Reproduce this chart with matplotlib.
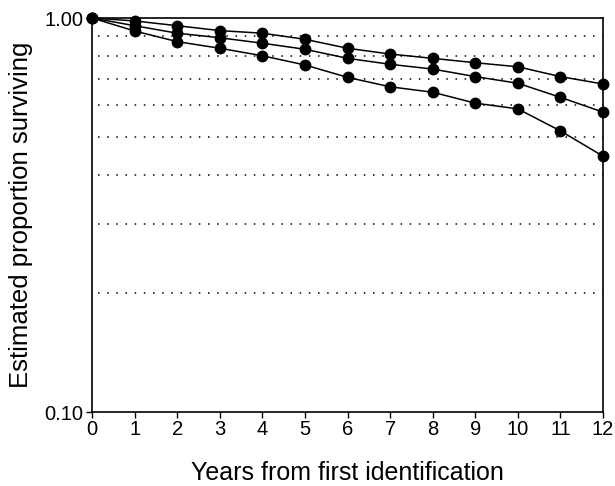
import matplotlib
matplotlib.use("Agg")
import matplotlib.pyplot as plt
from matplotlib.ticker import FixedLocator, FixedFormatter, NullLocator

plt.rcParams["font.family"] = ["Liberation Sans", "DejaVu Sans"]

# Years since first identification
years = [0, 1, 2, 3, 4, 5, 6, 7, 8, 9, 10, 11, 12]

# Estimated proportion surviving for the three groups
survival_high = [1.00, 0.983, 0.956, 0.929, 0.915, 0.883, 0.838, 0.810, 0.790, 0.770, 0.752, 0.710, 0.680]
survival_mid = [1.00, 0.956, 0.915, 0.891, 0.863, 0.833, 0.790, 0.763, 0.742, 0.710, 0.683, 0.629, 0.577]
survival_low = [1.00, 0.927, 0.871, 0.838, 0.802, 0.760, 0.707, 0.669, 0.648, 0.608, 0.588, 0.517, 0.446]

# Reference levels drawn as dotted lines
grid_levels = [0.2, 0.3, 0.4, 0.5, 0.6, 0.7, 0.8, 0.9]

y_ticks = [0.10, 1.00]
y_tick_labels = ["0.10", "1.00"]

fig = plt.figure(figsize=(6.15, 4.86), dpi=100)
ax = fig.add_axes([92 / 615, 1 - 412 / 486, (603 - 92) / 615, (412 - 18) / 486])

ax.set_yscale("log")
ax.set_xlim(0, 12)
ax.set_ylim(0.1, 1.0)

for lvl in grid_levels:
    ax.plot([0.15, 12], [lvl, lvl], color="black", lw=1.1,
            linestyle=(0, (1, 5)), zorder=1)

for series in (survival_high, survival_mid, survival_low):
    ax.plot(years, series, color="black", lw=1.1, marker="o",
            markersize=7.5, markerfacecolor="black", markeredgecolor="black",
            clip_on=False, zorder=3)

ax.xaxis.set_major_locator(FixedLocator(years))
ax.set_xticklabels([str(y) for y in years])
ax.yaxis.set_major_locator(FixedLocator(y_ticks))
ax.yaxis.set_major_formatter(FixedFormatter(y_tick_labels))
ax.yaxis.set_minor_locator(NullLocator())

ax.tick_params(axis="both", which="major", direction="out", length=4,
               width=1, labelsize=14.5, colors="black", pad=2)
for spine in ax.spines.values():
    spine.set_linewidth(1.2)
    spine.set_color("black")

fig.text(347 / 615, 6 / 486, "Years from first identification",
         ha="center", va="baseline", fontsize=18)
fig.text(21 / 615, 1 - 215 / 486, "Estimated proportion surviving",
         ha="center", va="center", rotation=90, fontsize=18.5)

fig.savefig("out.png", dpi=100)
